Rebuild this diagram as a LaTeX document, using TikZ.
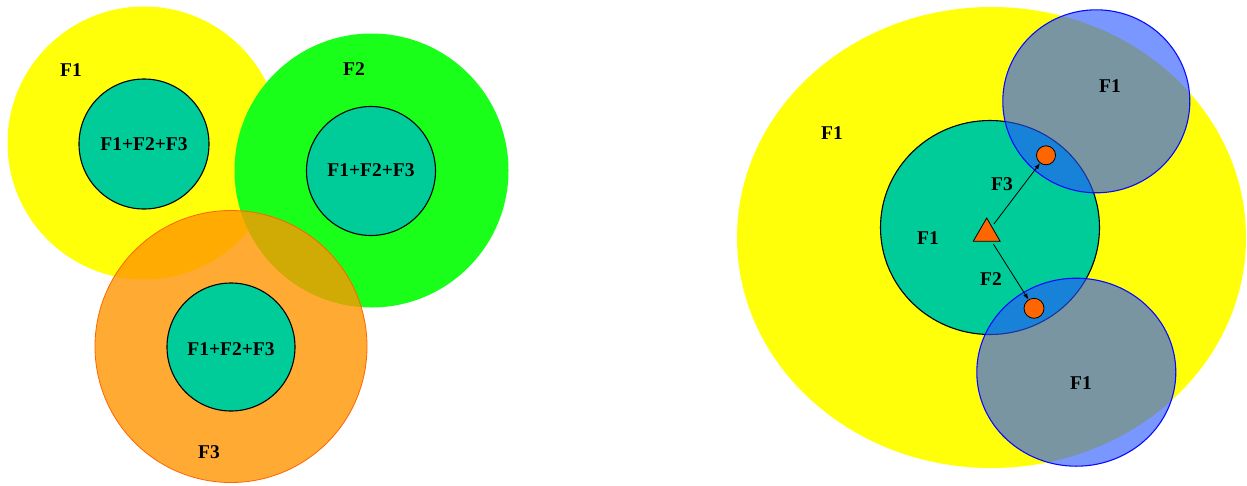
\documentclass[tikz,border=0pt]{standalone}
\usepackage{fontspec}
\setmainfont{Liberation Serif}
\usetikzlibrary{shapes.geometric,arrows.meta}

\definecolor{zoneyellow}{RGB}{255,255,10}
\definecolor{zonegreen}{RGB}{25,255,25}
\definecolor{zoneorange}{RGB}{255,150,0}
\definecolor{edgeorange}{RGB}{255,100,0}
\definecolor{coreteal}{RGB}{0,204,153}
\definecolor{cellblue}{RGB}{40,85,255}
\definecolor{edgeblue}{RGB}{10,10,255}
\definecolor{markorange}{RGB}{255,102,0}

\begin{document}
\begin{tikzpicture}[x=1pt,y=-1pt]
    \tikzstyle{zone}=[circle,inner sep=0pt]
    \tikzstyle{core}=[circle,draw=black,line width=1.1pt,fill=coreteal,inner sep=0pt,minimum size=130pt]
    \tikzstyle{cell}=[ellipse,draw=edgeblue,line width=1.1pt,fill=cellblue,fill opacity=0.62,inner sep=0pt]
    \tikzstyle{station}=[draw=black,line width=0.8pt,fill=markorange,inner sep=0pt]
    \tikzstyle{lbl}=[font=\fontsize{19.5}{20}\selectfont\bfseries,inner sep=0pt]
    \useasboundingbox (0,0) rectangle (1247,485);
    % Left: three zones
    \node[zone,fill=zoneyellow,minimum size=273pt] (zoneA) at (144,143) {};
    \node[zone,fill=zonegreen,minimum size=274pt] (zoneB) at (371.5,170.5) {};
    \node[zone,fill=zoneorange,fill opacity=0.8,draw=edgeorange,line width=0.8pt,minimum size=272pt] (zoneC) at (231,346.5) {};
    % Left: cores
    \node[core] (coreA) at (144,144) {};
    \node[core,minimum size=129pt] (coreB) at (371,171) {};
    \node[core,minimum size=128pt] (coreC) at (231,347) {};
    % Left: labels
    \node[lbl] (labA) at (71,70) {F1};
    \node[lbl] (labB) at (354,69) {F2};
    \node[lbl] (labC) at (209,452) {F3};
    \node[lbl] (sumA) at (144,144) {F1+F2+F3};
    \node[lbl] (sumB) at (371,170) {F1+F2+F3};
    \node[lbl] (sumC) at (231,349) {F1+F2+F3};
    % Right: cell and reuse
    \node[ellipse,fill=zoneyellow,inner sep=0pt,minimum width=509pt,minimum height=461pt] (cellOuter) at (991.5,237.5) {};
    \node[ellipse,draw=black,line width=1.1pt,fill=coreteal,inner sep=0pt,minimum width=219pt,minimum height=214pt] (cellInner) at (990,227.5) {};
    \node[cell,minimum width=187pt,minimum height=183pt] (cellUp) at (1096.3,101.3) {};
    \node[cell,minimum width=199pt,minimum height=188pt] (cellDown) at (1076.3,372.2) {};
    % Right: base station and users
    \node[station,regular polygon,regular polygon sides=3,minimum size=31pt] (bs) at (986.7,233.5) {};
    \node[station,circle,minimum size=19pt] (userUp) at (1046,155.3) {};
    \node[station,circle,minimum size=20pt] (userDown) at (1034,308.3) {};
    \draw[line width=0.8pt,-{Latex[length=6pt,width=4.5pt]},shorten <=3pt] (bs) -- (userUp);
    \draw[line width=0.8pt,-{Latex[length=6pt,width=4.5pt]},shorten <=3pt] (bs) -- (userDown);
    % Right: labels
    \node[lbl] (labOuter) at (832,133) {F1};
    \node[lbl] (labInner) at (928,238) {F1};
    \node[lbl] (labUp) at (1110,86) {F1};
    \node[lbl] (labDown) at (1081,383) {F1};
    \node[lbl] (labF3) at (1002,184) {F3};
    \node[lbl] (labF2) at (991,279) {F2};
\end{tikzpicture}
\end{document}
